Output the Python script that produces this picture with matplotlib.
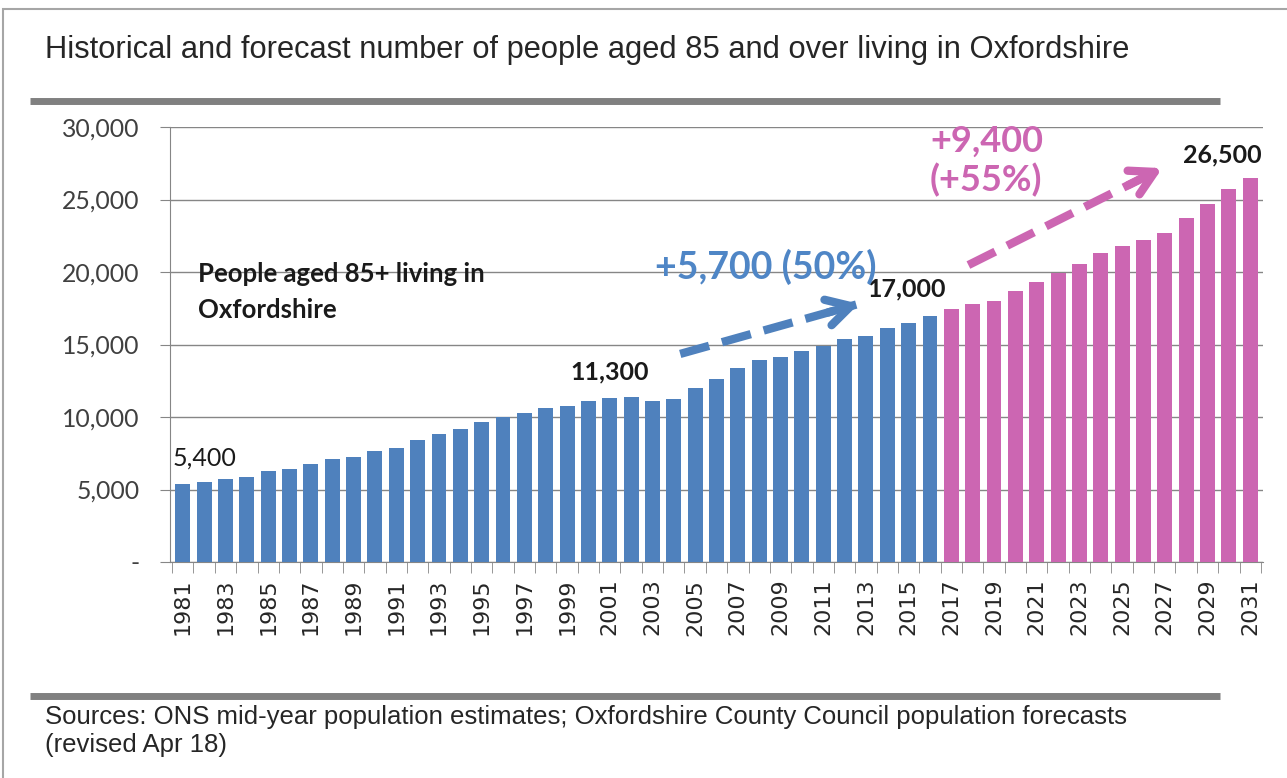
import matplotlib
matplotlib.use('Agg')
import matplotlib.pyplot as plt
from matplotlib.patches import Rectangle
from matplotlib.lines import Line2D

# Oxfordshire residents aged 85+, mid-year estimates then forecasts
hist_years = list(range(1981, 2017))
hist_values = [5400, 5500, 5750, 5880, 6250, 6390, 6760, 7130, 7260, 7660,
               7880, 8410, 8800, 9150, 9630, 10000, 10280, 10640, 10780, 11120,
               11300, 11400, 11120, 11260, 12020, 12620, 13400, 13910, 14140, 14530,
               14880, 15380, 15610, 16120, 16500, 17000]
fc_years = list(range(2017, 2032))
fc_values = [17430, 17790, 18000, 18710, 19290, 19950, 20530, 21290, 21790, 22210,
             22710, 23700, 24690, 25720, 26500]

y_ticks = [0, 5000, 10000, 15000, 20000, 25000, 30000]
y_labels = ['-', '5,000', '10,000', '15,000', '20,000', '25,000', '30,000']

title = 'Historical and forecast number of people aged 85 and over living in Oxfordshire'
source = ('Sources: ONS mid-year population estimates; Oxfordshire County Council population forecasts\n'
          '(revised Apr 18)')

BLUE = '#4f81bd'
PINK = '#cc66b2'
GREY = '#868686'
W, H = 1287, 778

fig = plt.figure(figsize=(W / 100, H / 100), dpi=100)
fig.patch.set_facecolor('white')

# outer frame and the two heavy rules
fig.patches.append(Rectangle((3 / W, -0.1), 1.2, 1 - 9 / H + 0.1, transform=fig.transFigure,
                             fill=False, edgecolor='#a6a6a6', linewidth=1.5))
for yp in (101, 696):
    fig.add_artist(Line2D([30 / W, 1220 / W], [1 - yp / H] * 2, transform=fig.transFigure,
                          color='#808080', linewidth=5, solid_capstyle='butt'))

fig.text(45 / W, 1 - 50 / H, title, fontsize=22.2, family='Liberation Sans',
         color='#262626', va='center', ha='left')
fig.text(45 / W, 1 - 731 / H, source, fontsize=18.5, family='Liberation Sans',
         color='#262626', va='center', ha='left', linespacing=1.25)

ax = fig.add_axes([170 / W, 1 - 562 / H, (1263 - 170) / W, (562 - 127) / H])
n = len(hist_years) + len(fc_years)
xs_hist = list(range(len(hist_years)))
xs_fc = list(range(len(hist_years), n))
ax.bar(xs_hist, hist_values, width=0.7, color=BLUE, zorder=3)
ax.bar(xs_fc, fc_values, width=0.7, color=PINK, zorder=3)

ax.set_xlim(-0.6, n - 0.4)
ax.set_ylim(0, 30000)
ax.set_yticks(y_ticks)
ax.set_yticklabels(y_labels, fontsize=17.8, family='Lato', color='#404040')
ax.yaxis.grid(True, color=GREY, linewidth=1, zorder=0)
ax.tick_params(axis='y', length=7, color=GREY, pad=15)

all_years = hist_years + fc_years
ax.set_xticks(list(range(0, n, 2)))
ax.set_xticklabels([str(y) for y in all_years[::2]], rotation=90,
                   fontsize=16, family='DejaVu Sans', color='#262626')
ax.set_xticks([i + 0.5 for i in range(-1, n)], minor=True)
ax.tick_params(axis='x', which='major', length=0, pad=12)
ax.tick_params(axis='x', which='minor', length=8, color=GREY)

for side in ('top', 'right'):
    ax.spines[side].set_visible(False)
for side in ('left', 'bottom'):
    ax.spines[side].set_color(GREY)

# value labels
lab = dict(family='Lato', fontsize=18, color='#1a1a1a', ha='center', va='center')
ax.text(xs_hist[0] + 1.0, 7170, f'{hist_values[0]:,}', **lab)
ax.text(xs_hist[20], 13100, f'{hist_values[20]:,}', fontweight='bold', **lab)
ax.text(xs_hist[-1] - 1.1, 18830, f'{hist_values[-1]:,}', fontweight='bold', **lab)
ax.text(xs_fc[-1] - 1.3, 28070, f'{fc_values[-1]:,}', fontweight='bold', **lab)

ax.text(0.7, 18650, 'People aged 85+ living in\nOxfordshire', family='Lato', fontsize=18.5,
        fontweight='bold', color='#1a1a1a', ha='left', va='center', linespacing=1.6)

ax.text(27.3, 20340, '+5,700 (50%)', family='Lato', fontsize=27, fontweight='bold',
        color='#4f86c6', ha='center', va='center')
ax.text(35.0, 27650, '+9,400\n(+55%)', family='Lato', fontsize=26, fontweight='bold',
        color=PINK, ha='left', va='center', linespacing=1.2)


def dashed_arrow(x0, y0, x1, y1, color):
    ax.plot([x0, x1 - (x1 - x0) * 0.03], [y0, y1 - (y1 - y0) * 0.03], color=color,
            linewidth=6, linestyle=(0, (3.6, 1.6)), solid_capstyle='butt', zorder=4)
    ax.annotate('', xy=(x1, y1), xytext=(x0 + (x1 - x0) * 0.8, y0 + (y1 - y0) * 0.8),
                arrowprops=dict(arrowstyle='->,head_length=1.7,head_width=0.95',
                                color=color, linewidth=6), zorder=4)


dashed_arrow(23.3, 14350, 31.8, 17860, '#4f81bd')
dashed_arrow(36.8, 20480, 46.0, 27250, PINK)

fig.savefig('out.png', dpi=100)
